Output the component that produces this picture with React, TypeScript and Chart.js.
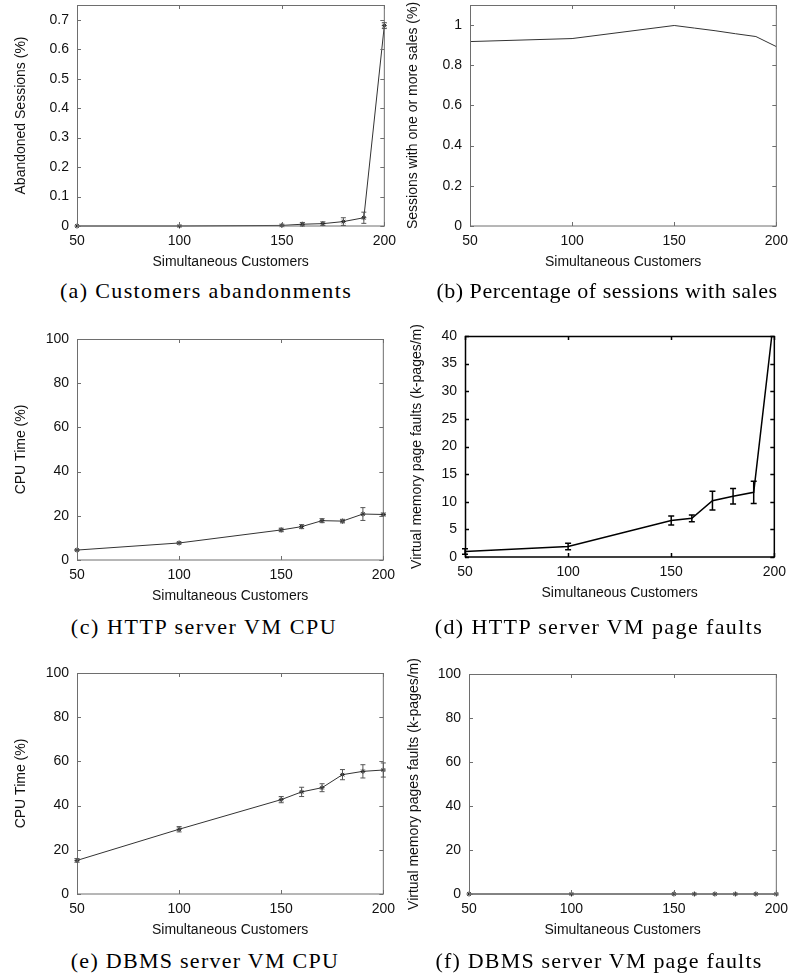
import React, { useEffect, useRef } from "react";
import { Chart, registerables } from "chart.js";
Chart.register(...registerables);

// ---------- data ----------
const customers = [50, 100, 150, 160, 170, 180, 190, 200];
const xTicks = [50, 100, 150, 200];

const abandonedSessions = [0, 0, 0.002, 0.006, 0.008, 0.015, 0.028, 0.68];
const abandonedErr = [0, 0, 0.002, 0.006, 0.006, 0.013, 0.019, 0.01];
const abandonedTicks = [0, 0.1, 0.2, 0.3, 0.4, 0.5, 0.6, 0.7];

const salesSessions = [0.918, 0.933, 0.998, 0.985, 0.972, 0.957, 0.943, 0.893];
const salesTicks = [0, 0.2, 0.4, 0.6, 0.8, 1];

const httpCpu = [4.5, 7.7, 13.6, 15.1, 17.8, 17.6, 20.8, 20.6];
const httpCpuErr = [0.3, 0.4, 0.8, 0.9, 0.9, 0.8, 2.9, 0.6];
const cpuTicks = [0, 20, 40, 60, 80, 100];

const httpFaults = [1.0, 1.9, 6.6, 7.0, 10.2, 11.0, 11.7, 44];
const httpFaultsErr = [0.5, 0.6, 0.8, 0.6, 1.7, 1.4, 2.0, 0];
const faultTicks = [0, 5, 10, 15, 20, 25, 30, 35, 40];

const dbCpu = [15.2, 29.3, 42.7, 46.2, 48.1, 54.0, 55.5, 56.1];
const dbCpuErr = [0.8, 1.2, 1.4, 2.1, 1.8, 2.3, 3.0, 3.2];

const dbFaults = [0, 0, 0, 0, 0, 0, 0, 0];
const dbFaultTicks = [0, 20, 40, 60, 80, 100];

const xTitle = "Simultaneous Customers";

// ---------- layout ----------
type Spec = {
  colX: number; L: number; T: number; R: number; B: number;
  yTitleX: number; yTitle: string; yMax: number; yTicks: number[];
  values: number[]; errors?: number[];
  frame: string; frameW: number; line: string; lineW: number;
  pointR: number; errColor: string; errW: number; cap: number; clipTop: boolean;
};

const SANS = '"Liberation Sans", Arial, Helvetica, sans-serif';
const PAD_TOP = 20;
const PAD_RIGHT = 16;
const X_AXIS_H = 50;

const light = { frame: "#6e6e6e", frameW: 1, line: "#333", lineW: 1, errColor: "#555", errW: 1, cap: 2.5 };

const specs: Spec[] = [
  { colX: 0, L: 77, T: 5, R: 387, B: 226, yTitleX: 21, yTitle: "Abandoned Sessions (%)", yMax: 0.75, yTicks: abandonedTicks, values: abandonedSessions, errors: abandonedErr, ...light, pointR: 2.5, clipTop: false },
  { colX: 400, L: 470, T: 5, R: 779, B: 226, yTitleX: 413, yTitle: "Sessions with one or more sales (%)", yMax: 1.1, yTicks: salesTicks, values: salesSessions, ...light, pointR: 0, clipTop: false },
  { colX: 0, L: 77, T: 339, R: 386, B: 560, yTitleX: 21, yTitle: "CPU Time (%)", yMax: 100, yTicks: cpuTicks, values: httpCpu, errors: httpCpuErr, ...light, pointR: 2.5, clipTop: false },
  { colX: 400, L: 465, T: 336, R: 777, B: 557, yTitleX: 417, yTitle: "Virtual memory page faults (k-pages/m)", yMax: 40, yTicks: faultTicks, values: httpFaults, errors: httpFaultsErr, frame: "#000", frameW: 1.5, line: "#000", lineW: 1.5, errColor: "#000", errW: 1.5, cap: 3, pointR: 0, clipTop: true },
  { colX: 0, L: 77, T: 673, R: 386, B: 894, yTitleX: 21, yTitle: "CPU Time (%)", yMax: 100, yTicks: cpuTicks, values: dbCpu, errors: dbCpuErr, ...light, pointR: 2.5, clipTop: false },
  { colX: 400, L: 469, T: 674, R: 779, B: 894, yTitleX: 414, yTitle: "Virtual memory pages faults (k-pages/m)", yMax: 100, yTicks: dbFaultTicks, values: dbFaults, ...light, pointR: 2.5, clipTop: false },
];

const captions = [
  { text: "(a) Customers abandonments", cx: 206, cy: 291, ls: 1.37 },
  { text: "(b) Percentage of sessions with sales", cx: 607, cy: 291, ls: 0.52 },
  { text: "(c) HTTP server VM CPU", cx: 204, cy: 627, ls: 1.55 },
  { text: "(d) HTTP server VM page faults", cx: 599, cy: 627, ls: 1.4 },
  { text: "(e) DBMS server VM CPU", cx: 205, cy: 961, ls: 1.28 },
  { text: "(f) DBMS server VM page faults", cx: 599, cy: 961, ls: 1.2 },
];

const fmt = (v: number) => String(Math.round(v * 1000) / 1000);

function Panel({ spec }: { spec: Spec }) {
  const ref = useRef<HTMLCanvasElement>(null);
  const width = spec.R + PAD_RIGHT - spec.colX;
  const height = spec.B - spec.T + PAD_TOP + X_AXIS_H;

  useEffect(() => {
    const canvas = ref.current!;
    const framePlugin = {
      id: "frameTicks",
      afterDatasetsDraw(chart: any) {
        const { ctx, chartArea } = chart;
        const { left, right, top, bottom } = chartArea;
        const xs = chart.scales.x;
        const ys = chart.scales.y;
        const len = 4;
        ctx.save();
        ctx.strokeStyle = spec.frame;
        ctx.lineWidth = spec.frameW;
        ctx.beginPath();
        for (const t of xs.ticks) {
          const px = Math.round(xs.getPixelForValue(t.value)) + 0.5;
          ctx.moveTo(px, bottom);
          ctx.lineTo(px, bottom - len);
          ctx.moveTo(px, top);
          ctx.lineTo(px, top + len);
        }
        for (const t of ys.ticks) {
          const py = Math.round(ys.getPixelForValue(t.value)) + 0.5;
          ctx.moveTo(left, py);
          ctx.lineTo(left + len, py);
          ctx.moveTo(right, py);
          ctx.lineTo(right - len, py);
        }
        ctx.stroke();
        ctx.strokeRect(left + 0.5, top + 0.5, right - left - 0.5, bottom - top - 0.5);
        ctx.restore();
      },
    };
    const errPlugin = {
      id: "errorBars",
      afterDatasetsDraw(chart: any) {
        const ds = chart.data.datasets[0];
        const errs: number[] | undefined = ds.errors;
        if (!errs) return;
        const meta = chart.getDatasetMeta(0);
        const ys = chart.scales.y;
        const { ctx, chartArea } = chart;
        ctx.save();
        ctx.beginPath();
        ctx.rect(chartArea.left - 6, chartArea.top, chartArea.right - chartArea.left + 12, chartArea.bottom - chartArea.top + 2);
        ctx.clip();
        ctx.strokeStyle = spec.errColor;
        ctx.lineWidth = spec.errW;
        ctx.beginPath();
        meta.data.forEach((pt: any, i: number) => {
          const e = errs[i];
          if (!e) return;
          const v = ds.data[i].y;
          const x = pt.x;
          const y1 = ys.getPixelForValue(v - e);
          const y2 = ys.getPixelForValue(v + e);
          ctx.moveTo(x, y1);
          ctx.lineTo(x, y2);
          ctx.moveTo(x - spec.cap, y1);
          ctx.lineTo(x + spec.cap, y1);
          ctx.moveTo(x - spec.cap, y2);
          ctx.lineTo(x + spec.cap, y2);
        });
        ctx.stroke();
        ctx.restore();
      },
    };
    const yTitlePlugin = {
      id: "yTitleDraw",
      afterDraw(chart: any) {
        const { ctx, chartArea } = chart;
        ctx.save();
        ctx.translate(spec.yTitleX - spec.colX, (chartArea.top + chartArea.bottom) / 2);
        ctx.rotate(-Math.PI / 2);
        ctx.font = `14px ${SANS}`;
        ctx.fillStyle = "#111";
        ctx.textAlign = "center";
        ctx.textBaseline = "middle";
        ctx.fillText(spec.yTitle, 0, 0);
        ctx.restore();
      },
    };

    const chart = new Chart(canvas, {
      type: "line",
      data: {
        datasets: [
          {
            data: customers.map((x, i) => ({ x, y: spec.values[i] })),
            errors: spec.errors,
            borderColor: spec.line,
            borderWidth: spec.lineW,
            backgroundColor: spec.line,
            pointStyle: "star",
            pointRadius: spec.pointR,
            pointBorderWidth: 1,
            pointBorderColor: "#222",
            tension: 0,
            fill: false,
            clip: spec.clipTop ? { left: 6, right: 6, top: 0, bottom: 6 } : false,
          } as any,
        ],
      },
      options: {
        animation: false,
        responsive: false,
        devicePixelRatio: 1,
        layout: { padding: { top: PAD_TOP, right: PAD_RIGHT, left: 0, bottom: 0 } },
        plugins: { legend: { display: false }, tooltip: { enabled: false } },
        scales: {
          x: {
            type: "linear",
            min: 50,
            max: 200,
            afterBuildTicks: (s: any) => {
              s.ticks = xTicks.map((v) => ({ value: v }));
            },
            afterFit: (s: any) => {
              s.height = X_AXIS_H;
            },
            grid: { display: false, drawTicks: false },
            border: { display: false },
            ticks: {
              padding: 7,
              maxRotation: 0,
              autoSkip: false,
              color: "#111",
              font: { family: SANS, size: 14 },
              callback: (v: any) => String(v),
            },
            title: {
              display: true,
              text: xTitle,
              color: "#111",
              font: { family: SANS, size: 14 },
              padding: { top: 0, bottom: 5.6 },
            },
          },
          y: {
            type: "linear",
            min: 0,
            max: spec.yMax,
            afterBuildTicks: (s: any) => {
              s.ticks = spec.yTicks.map((v) => ({ value: v }));
            },
            afterFit: (s: any) => {
              s.width = spec.L - spec.colX;
            },
            grid: { display: false, drawTicks: false },
            border: { display: false },
            ticks: {
              padding: 8,
              autoSkip: false,
              color: "#111",
              font: { family: SANS, size: 14 },
              callback: (v: any) => fmt(Number(v)),
            },
          },
        },
      } as any,
      plugins: [framePlugin, errPlugin, yTitlePlugin],
    });
    return () => chart.destroy();
  }, []);

  return (
    <canvas
      ref={ref}
      width={width}
      height={height}
      style={{ position: "absolute", left: spec.colX, top: spec.T - PAD_TOP, width, height }}
    />
  );
}

export default function App() {
  return (
    <div style={{ position: "absolute", left: 0, top: 0, width: 794, height: 977, background: "#fff", overflow: "hidden" }}>
      {specs.map((s, i) => (
        <Panel key={i} spec={s} />
      ))}
      {captions.map((c, i) => (
        <div
          key={"c" + i}
          style={{
            position: "absolute",
            left: c.cx - 200,
            width: 400,
            top: c.cy - 14,
            height: 28,
            lineHeight: "28px",
            textAlign: "center",
            fontFamily: '"Liberation Serif", "Times New Roman", serif',
            fontSize: 22,
            letterSpacing: c.ls,
            color: "#000",
            whiteSpace: "nowrap",
          }}
        >
          {c.text}
        </div>
      ))}
    </div>
  );
}
